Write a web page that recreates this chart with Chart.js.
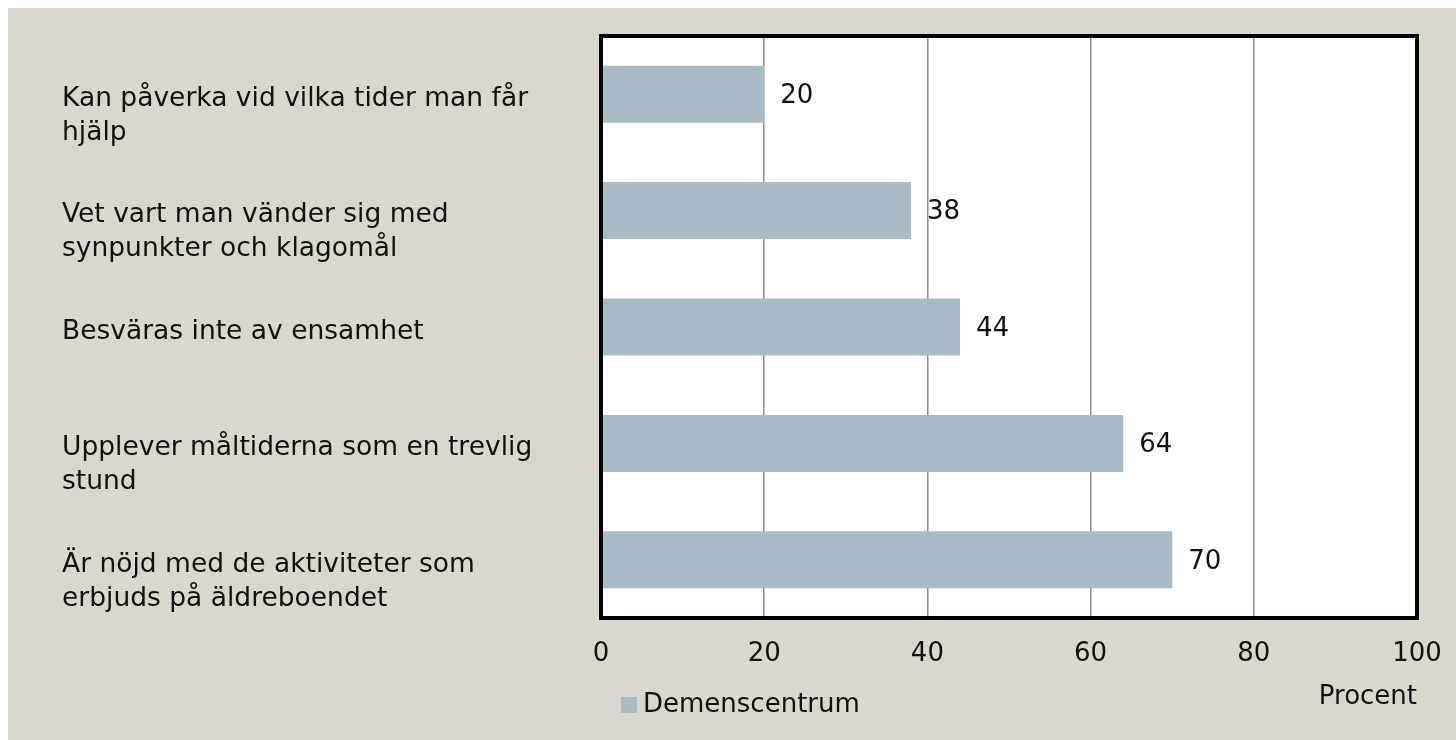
<!DOCTYPE html>
<html>
<head>
<meta charset="utf-8">
<script src="https://cdn.jsdelivr.net/npm/chart.js@4/dist/chart.umd.min.js"></script>
<style>
  html, body { margin: 0; padding: 0; background: #ffffff; }
  #wrap { width: 1456px; height: 740px; }
</style>
</head>
<body>
<div id="wrap"><canvas id="chart" width="1456" height="740"></canvas></div>
<script>
const categories = [
    ['Kan påverka vid vilka tider man får', 'hjälp'],
    ['Vet vart man vänder sig med', 'synpunkter och klagomål'],
    ['Besväras inte av ensamhet'],
    ['Upplever måltiderna som en trevlig', 'stund'],
    ['Är nöjd med de aktiviteter som', 'erbjuds på äldreboendet']
];
const seriesName = 'Demenscentrum';
const values = [20, 38, 44, 64, 70];
const xTicks = [0, 20, 40, 60, 80, 100];
const axisTitle = 'Procent';

const FONT = '"DejaVu Sans", sans-serif';
const BAR = '#a7bbc6';
const BG = '#dad8cc';

// page background, white plot area, labels, border, legend
const decor = {
    id: 'decor',
    beforeDraw(chart) {
        const ctx = chart.ctx, a = chart.chartArea;
        ctx.save();
        ctx.fillStyle = BG;
        ctx.fillRect(8, 8, chart.width - 8, chart.height - 8);
        ctx.fillStyle = '#ffffff';
        ctx.fillRect(a.left, a.top, a.right - a.left, a.bottom - a.top);
        ctx.restore();
    },
    afterDatasetsDraw(chart) {
        const ctx = chart.ctx, a = chart.chartArea;
        const yScale = chart.scales.y;
        const meta = chart.getDatasetMeta(0);
        ctx.save();
        ctx.fillStyle = '#111111';
        ctx.textBaseline = 'middle';
        ctx.textAlign = 'left';
        // category labels, first line level with the bar
        ctx.font = '26.5px ' + FONT;
        categories.forEach((lines, i) => {
            const y = yScale.getPixelForValue(i) + 5;
            lines.forEach((t, k) => ctx.fillText(t, 62, y + k * 34));
        });
        // value labels
        ctx.font = '26px ' + FONT;
        meta.data.forEach((bar, i) => {
            ctx.fillText(String(values[i]), bar.x + 16, bar.y + 2);
        });
        // thick frame
        ctx.strokeStyle = '#000000';
        ctx.lineWidth = 4;
        ctx.strokeRect(a.left, a.top, a.right - a.left, a.bottom - a.top);
        // legend
        ctx.fillStyle = BAR;
        ctx.fillRect(621, 697, 16, 16);
        ctx.fillStyle = '#111111';
        ctx.fillText(seriesName, 643, 705);
        ctx.restore();
    }
};

new Chart(document.getElementById('chart').getContext('2d'), {
    type: 'bar',
    data: {
        labels: categories.map(c => c.join(' ')),
        datasets: [{
            label: seriesName,
            data: values,
            backgroundColor: BAR,
            borderWidth: 0,
            categoryPercentage: 1,
            barPercentage: 0.49
        }]
    },
    options: {
        indexAxis: 'y',
        responsive: false,
        animation: false,
        layout: { padding: { top: 36, right: 39, left: 0, bottom: 0 } },
        plugins: {
            legend: { display: false },
            tooltip: { enabled: false }
        },
        scales: {
            x: {
                min: 0,
                max: 100,
                afterBuildTicks: s => { s.ticks = xTicks.map(v => ({ value: v })); },
                afterFit: s => { s.height = 122; s.paddingLeft = 0; s.paddingRight = 0; },
                grid: {
                    color: ctx => (ctx.tick && (ctx.tick.value === 0 || ctx.tick.value === 100)) ? 'rgba(0,0,0,0)' : '#8c8c8c',
                    lineWidth: 1.5,
                    drawTicks: false
                },
                border: { display: false },
                ticks: {
                    padding: 21,
                    color: '#111111',
                    font: { family: FONT, size: 26 }
                },
                title: {
                    display: true,
                    text: axisTitle,
                    align: 'end',
                    color: '#111111',
                    font: { family: FONT, size: 26 },
                    padding: { bottom: 27, top: 0 }
                }
            },
            y: {
                afterFit: s => { s.width = 601; },
                grid: { display: false },
                border: { display: false },
                ticks: { display: false }
            }
        }
    },
    plugins: [decor]
});
</script>
</body>
</html>
